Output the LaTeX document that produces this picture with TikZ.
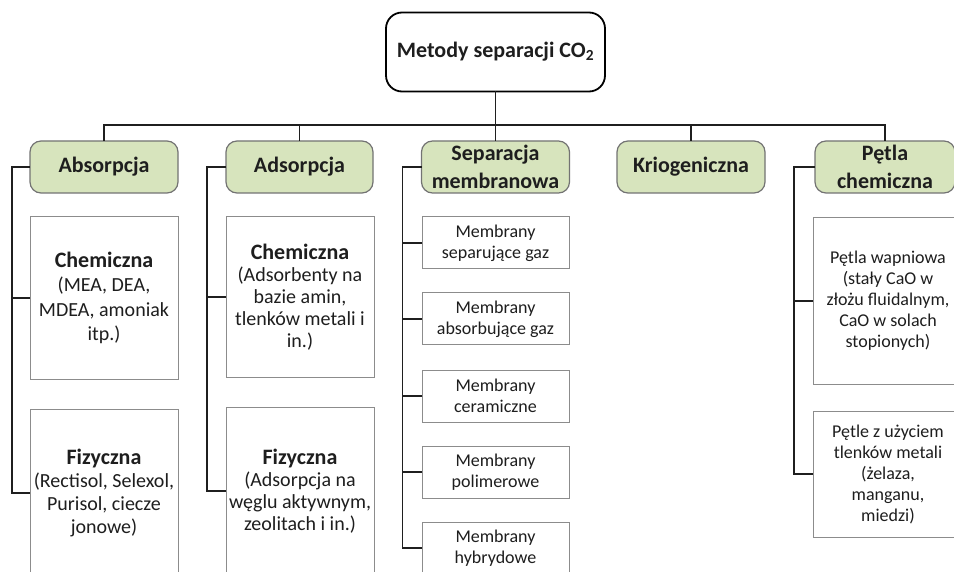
\documentclass[tikz,border=0pt]{standalone}
\usepackage{fontspec}
\setmainfont{Carlito}
\definecolor{catgreen}{HTML}{D7E4BD}
\definecolor{inkcol}{HTML}{1E1E1E}
\begin{document}
\begin{tikzpicture}[x=1pt,y=-1pt,
  every node/.style={inner sep=0pt, outer sep=0pt, align=center, text=inkcol},
  rootbox/.style={draw=black, line width=1.8pt, rounded corners=16pt, fill=white,
    minimum width=219pt, minimum height=79pt, font=\bfseries\fontsize{22}{26}\selectfont},
  catbox/.style={draw=black!55, line width=1.2pt, fill=catgreen, rounded corners=11pt,
    minimum height=52pt, font=\bfseries\fontsize{22}{28}\selectfont},
  subbox/.style={draw=black!45, line width=1pt, fill=white, minimum width=148pt,
    font=\fontsize{20}{23}\selectfont},
  membox/.style={draw=black!45, line width=1pt, fill=white, minimum width=147pt,
    minimum height=52pt, font=\fontsize{18}{21}\selectfont},
  loopbox/.style={draw=black!45, line width=1pt, fill=white, minimum width=150pt,
    font=\fontsize{18}{21}\selectfont},
  link/.style={draw=black!88, line width=1.5pt}
]
\useasboundingbox (0,0) rectangle (954,572);
\fill[white] (0,0) rectangle (954,572);
\clip (0,0) rectangle (954,572);

% root
\node[rootbox] (root) at (495.5,52) {Metody separacji CO\textsubscript{2}};

% categories
\node[catbox, minimum width=148pt] (abs) at (104,167) {Absorpcja};
\node[catbox, minimum width=147pt] (ads) at (299.5,167) {Adsorpcja};
\node[catbox, minimum width=148pt] (sep) at (495.5,167) {Separacja\\membranowa};
\node[catbox, minimum width=148pt] (kri) at (691,167) {Kriogeniczna};
\node[catbox, minimum width=140pt] (pet) at (885,167) {Pętla\\chemiczna};

\coordinate (bus) at (0,125);

% absorption
\node[subbox, minimum height=162pt, font=\fontsize{20}{24.5}\selectfont] (absC) at (104,298)
  {{\bfseries\fontsize{22}{26}\selectfont Chemiczna}\\(MEA, DEA,\\MDEA, amoniak\\itp.)};
\node[subbox, minimum height=168pt] (absF) at (104,493)
  {{\bfseries\fontsize{22}{26}\selectfont Fizyczna}\\(Rectisol, Selexol,\\Purisol, ciecze\\jonowe)};

% adsorption
\node[subbox, minimum height=160pt, font=\fontsize{20}{22}\selectfont] (adsC) at (300,297)
  {{\bfseries\fontsize{22}{26}\selectfont Chemiczna}\\(Adsorbenty na\\bazie amin,\\tlenków metali i\\in.)};
\node[subbox, minimum height=168pt, font=\fontsize{20}{22}\selectfont] (adsF) at (300,491)
  {{\bfseries\fontsize{22}{26}\selectfont Fizyczna}\\(Adsorpcja na\\węglu aktywnym,\\zeolitach i in.)};

% membranes
\node[membox] (m1) at (495.5,243) {Membrany\\separujące gaz};
\node[membox] (m2) at (495.5,319) {Membrany\\absorbujące gaz};
\node[membox] (m3) at (495.5,396) {Membrany\\ceramiczne};
\node[membox] (m4) at (495.5,472) {Membrany\\polimerowe};
\node[membox] (m5) at (495.5,548) {Membrany\\hybrydowe};

% chemical looping
\node[loopbox, minimum height=166pt] (pl1) at (888,301)
  {Pętla wapniowa\\(stały CaO w\\złożu fluidalnym,\\CaO w solach\\stopionych)};
\node[loopbox, minimum height=126pt] (pl2) at (888,474)
  {Pętle z użyciem\\tlenków metali\\(żelaza,\\manganu,\\miedzi)};

% top-level connectors
\draw[link] (root.south) -- (sep.north);
\draw[link] (abs.north) |- (pet.north |- bus) -- (pet.north);
\draw[link] (ads.north) -- (ads.north |- bus);
\draw[link] (kri.north) -- (kri.north |- bus);

% side rails
\draw[link] (abs.west) -- ++(-18,0) |- (absF.west);
\draw[link] (absC.west) -- ++(-18,0);
\draw[link] (ads.west) -- ++(-19,0) |- (adsF.west);
\draw[link] (adsC.west) -- ++(-19,0);
\draw[link] (sep.west) -- ++(-19,0) |- (m5.west);
\foreach \m in {m1,m2,m3,m4} \draw[link] (\m.west) -- ++(-19,0);
\draw[link] (pet.west) -- ++(-21,0) |- (pl2.west);
\draw[link] (pl1.west) -- ++(-19,0);
\end{tikzpicture}
\end{document}
